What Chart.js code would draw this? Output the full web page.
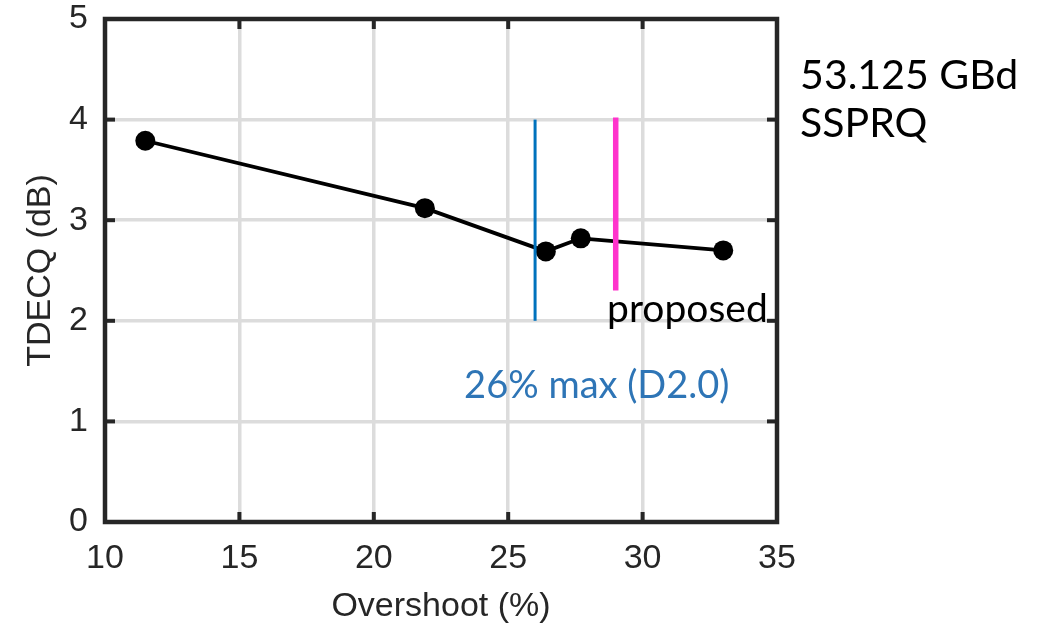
<!doctype html>
<html><head><meta charset="utf-8">
<script src="https://cdn.jsdelivr.net/npm/chart.js@4.4.1/dist/chart.umd.min.js"></script>
<style>
  html,body{margin:0;background:#fff}
  #wrap{width:1051px;height:628px}
</style>
</head><body>
<div id="wrap"><canvas id="c" width="1051" height="628"></canvas></div>
<script>
// TDECQ vs overshoot, 53.125 GBd SSPRQ
const overshoot = [11.5, 21.9, 26.4, 27.7, 33.0];
const tdecq = [3.79, 3.12, 2.69, 2.82, 2.70];
// vertical limit markers
const d20X = [26, 26];
const d20Y = [2.0, 4.0];
const proposedX = [29, 29];
const proposedY = [2.3, 4.02];
const xTicks = [10, 15, 20, 25, 30, 35];
const yTicks = [0, 1, 2, 3, 4, 5];

const pts = (xs, ys) => xs.map((x, i) => ({ x, y: ys[i] }));

const AXIS = '#262626';
const labelFont = "'Liberation Sans', Arial, sans-serif";
const noteFont = "Lato, 'Open Sans', sans-serif";

// notes placed in data coordinates (left edge, baseline)
const notes = [
  { text: '53.125 GBd', x: 35.86, y: 4.30, color: '#000', size: 41 },
  { text: 'SSPRQ', x: 35.86, y: 3.83, color: '#000', size: 41 },
  { text: 'proposed', x: 28.68, y: 1.99, color: '#000', size: 39 },
  { text: '26% max (D2.0)', x: 23.36, y: 1.23, color: '#2E75B6', size: 38 },
];

// box, inward tick marks and text notes, MATLAB style
const frame = {
  id: 'frame',
  afterDraw(chart) {
    const { ctx, chartArea: a, scales: { x, y } } = chart;
    const seg = (x1, y1, x2, y2) => { ctx.beginPath(); ctx.moveTo(x1, y1); ctx.lineTo(x2, y2); ctx.stroke(); };
    ctx.save();
    ctx.strokeStyle = AXIS;
    ctx.lineWidth = 4;
    for (const v of xTicks) {
      const px = x.getPixelForValue(v);
      seg(px, a.top, px, a.top + 10);
      seg(px, a.bottom, px, a.bottom - 10);
    }
    for (const v of yTicks) {
      const py = y.getPixelForValue(v);
      seg(a.left, py, a.left + 10, py);
      seg(a.right, py, a.right - 10, py);
    }
    ctx.lineWidth = 4.5;
    ctx.strokeRect(a.left, a.top, a.width, a.height);

    ctx.textBaseline = 'alphabetic';
    ctx.textAlign = 'left';
    for (const n of notes) {
      ctx.fillStyle = n.color;
      ctx.font = `${n.size}px ${noteFont}`;
      ctx.fillText(n.text, x.getPixelForValue(n.x), y.getPixelForValue(n.y));
    }
    ctx.restore();
  }
};

new Chart(document.getElementById('c'), {
  type: 'scatter',
  data: {
    datasets: [
      { data: pts(proposedX, proposedY), showLine: true, borderColor: '#FF33CC', borderWidth: 5.5, pointRadius: 0, order: 0 },
      { data: pts(d20X, d20Y), showLine: true, borderColor: '#0072BD', borderWidth: 3, pointRadius: 0, order: 1 },
      { data: pts(overshoot, tdecq), showLine: true, borderColor: '#000', borderWidth: 3.8,
        pointRadius: 10, pointBackgroundColor: '#000', pointBorderWidth: 0, order: 2 },
    ]
  },
  options: {
    responsive: false,
    animation: false,
    events: [],
    layout: { padding: { top: 19, right: 274, left: 0, bottom: 0 } },
    plugins: { legend: { display: false }, tooltip: { enabled: false } },
    scales: {
      x: {
        type: 'linear', min: 10, max: 35,
        afterBuildTicks: s => { s.ticks = xTicks.map(value => ({ value })); },
        afterFit: s => { s.height = 106; s.paddingLeft = 0; s.paddingRight = 0; },
        grid: { color: '#dcdcdc', lineWidth: 3.5, drawTicks: false },
        border: { display: false },
        ticks: { color: AXIS, padding: 20, font: { family: labelFont, size: 34, lineHeight: 1 }, maxRotation: 0 },
        title: { display: true, text: 'Overshoot (%)', color: AXIS, font: { family: labelFont, size: 34, lineHeight: 1.2 }, padding: { top: 0, bottom: 1 } }
      },
      y: {
        type: 'linear', min: 0, max: 5,
        afterBuildTicks: s => { s.ticks = yTicks.map(value => ({ value })); },
        afterFit: s => { s.width = 105; s.paddingTop = 0; s.paddingBottom = 0; },
        grid: { color: '#dcdcdc', lineWidth: 3.5, drawTicks: false },
        border: { display: false },
        ticks: { color: AXIS, padding: 17, font: { family: labelFont, size: 34, lineHeight: 1 } },
        title: { display: true, text: 'TDECQ (dB)', color: AXIS, font: { family: labelFont, size: 34, lineHeight: 1.2 }, padding: { top: 20, bottom: 0 } }
      }
    }
  },
  plugins: [frame]
});
</script>
</body></html>
